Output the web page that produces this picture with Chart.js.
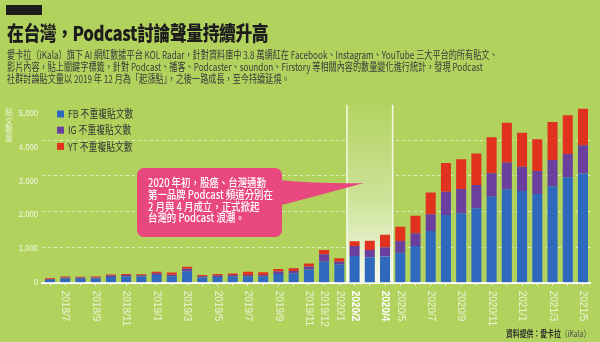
<!DOCTYPE html>
<html>
<head>
<meta charset="utf-8">
<script src="https://cdn.jsdelivr.net/npm/chart.js@4/dist/chart.umd.min.js"></script>
<style>
  body { margin: 0; }
  #wrap { position: relative; width: 600px; height: 342px; background: #b1d35e; overflow: hidden;
          font-family: "Noto Sans CJK TC", "Noto Sans", sans-serif; }
  #chart { position: absolute; left: 0; top: 0; }
  .txt { position: absolute; white-space: nowrap; transform-origin: 0 0; }
  #tag { position: absolute; left: 6px; top: 5px; width: 36px; height: 10px; background: #1c1c1c; }
  #title { left: 7px; top: 18px; font-size: 20px; font-weight: 900; color: #1d1d1d; transform: scaleX(0.84); letter-spacing: -0.5px; }
  #intro { left: 7px; top: 48px; font-size: 11px; line-height: 12.2px; color: #3a3a3a; transform: scaleX(0.74); }
  #note { left: 148px; top: 177px; font-size: 11.5px; line-height: 11.8px; color: #fff; font-weight: 500; transform: scaleX(0.82); }
  #source { left: 506px; top: 327px; font-size: 9px; color: #4a4a4a; transform: scaleX(0.76); }
  #source b { color: #2a2a2a; }
</style>
</head>
<body>
<div id="wrap">
  <canvas id="chart" width="600" height="342"></canvas>
  <div id="tag"></div>
  <div class="txt" id="title">在台灣，Podcast討論聲量持續升高</div>
  <div class="txt" id="intro">愛卡拉（iKala）旗下 AI 網紅數據平台 KOL Radar，針對資料庫中 3.8 萬網紅在 Facebook、Instagram、YouTube 三大平台的所有貼文、<br>影片內容，貼上關鍵字標籤，針對 Podcast、播客、Podcaster、soundon、Firstory 等相關內容的數量變化進行統計，發現 Podcast<br>社群討論貼文量以 2019 年 12 月為「起漲點」，之後一路成長，至今持續延燒。</div>
  <div class="txt" id="note">2020 年初，股癌、台灣通勤<br>第一品牌 Podcast 頻道分別在<br>2 月與 4 月成立，正式掀起<br>台灣的 Podcast 浪潮。</div>
  <div class="txt" id="source"><b>資料提供：愛卡拉</b>（iKala）</div>
</div>
<script>
  // monthly posts, 2018/6 - 2021/5
  var months = ['2018/6','2018/7','2018/8','2018/9','2018/10','2018/11','2018/12',
    '2019/1','2019/2','2019/3','2019/4','2019/5','2019/6','2019/7','2019/8','2019/9','2019/10','2019/11','2019/12',
    '2020/1','2020/2','2020/3','2020/4','2020/5','2020/6','2020/7','2020/8','2020/9','2020/10','2020/11','2020/12',
    '2021/1','2021/2','2021/3','2021/4','2021/5'];
  var tickLabels = ['2018/7','2018/9','2018/11','2019/1','2019/3','2019/5','2019/7','2019/9','2019/11','2019/12',
    '2020/1','2020/2','2020/4','2020/5','2020/7','2020/9','2020/11','2021/1','2021/3','2021/5'];
  var boldLabels = ['2020/2','2020/4'];
  var highlightRange = ['2020/2','2020/4'];

  var fbPosts = [85,125,120,125,170,185,180,230,190,340,150,170,180,185,180,260,275,390,620,
    540,790,750,770,885,1085,1525,2000,2050,2195,2540,2755,2705,2615,2850,3110,3225];
  var igPosts = [25,30,30,30,40,40,40,50,45,75,40,40,45,45,45,70,70,90,220,
    80,290,215,275,345,375,495,685,715,685,690,795,715,680,770,690,830];
  var ytPosts = [20,25,25,25,30,35,30,40,65,55,35,45,50,95,80,75,80,90,125,
    100,140,275,370,420,515,645,845,875,935,1060,1170,1005,935,1120,1145,1080];

  var yTicks = [0,1000,2000,3000,4000,5000];

  var decor = {
    id: 'decor',
    beforeDatasetsDraw: function (chart) {
      var ctx = chart.ctx, x = chart.scales.x, area = chart.chartArea;
      var half = (x.getPixelForValue(1) - x.getPixelForValue(0)) / 2;
      var x0 = x.getPixelForValue(months.indexOf(highlightRange[0])) - half;
      var x1 = x.getPixelForValue(months.indexOf(highlightRange[1])) + half;
      ctx.save();
      // highlighted months band
      var g = ctx.createLinearGradient(0, area.top, 0, area.bottom);
      g.addColorStop(0, 'rgba(255,255,255,0.02)');
      g.addColorStop(0.55, 'rgba(255,255,255,0.38)');
      g.addColorStop(1, 'rgba(255,255,255,0.9)');
      ctx.fillStyle = '#b1d35e';
      ctx.fillRect(x0, area.top, x1 - x0, area.bottom - area.top);
      ctx.fillStyle = g;
      ctx.fillRect(x0, area.top, x1 - x0, area.bottom - area.top);
      ctx.strokeStyle = 'rgba(255,255,255,0.85)';
      ctx.lineWidth = 1.5;
      ctx.beginPath();
      ctx.moveTo(x0, area.top); ctx.lineTo(x0, area.bottom);
      ctx.moveTo(x1, area.top); ctx.lineTo(x1, area.bottom);
      ctx.stroke();

      // callout bubble
      ctx.fillStyle = '#e9487f';
      ctx.beginPath();
      ctx.roundRect(137, 168, 145, 69, 7);
      ctx.fill();
      ctx.beginPath();
      ctx.moveTo(278, 180);
      ctx.quadraticCurveTo(325, 184, 364, 183);
      ctx.quadraticCurveTo(320, 195, 278, 206);
      ctx.closePath();
      ctx.fill();
      ctx.restore();
    },
    afterDraw: function (chart) {
      var ctx = chart.ctx, x = chart.scales.x, y = chart.scales.y, area = chart.chartArea;
      ctx.save();
      // y tick labels
      ctx.fillStyle = '#f4f8e6';
      ctx.font = '9px "Liberation Sans", sans-serif';
      ctx.textBaseline = 'middle';
      ctx.textAlign = 'right';
      yTicks.forEach(function (v) {
        var py = y.getPixelForValue(v);
        ctx.save();
        ctx.translate(38, py);
        ctx.scale(0.85, 1);
        ctx.fillText(v.toLocaleString('en-US'), 0, 0);
        ctx.restore();
      });
      // y axis title, stacked characters
      ctx.textAlign = 'center';
      ctx.fillStyle = '#e8f1cf';
      ctx.font = '8px "Noto Sans CJK TC", sans-serif';
      '貼文數量'.split('').forEach(function (ch, i) {
        ctx.fillText(ch, 9, 112 + i * 8.5);
      });
      // x tick labels, rotated to read top-down
      ctx.textAlign = 'left';
      tickLabels.forEach(function (lab) {
        var px = x.getPixelForValue(months.indexOf(lab));
        var bold = boldLabels.indexOf(lab) >= 0;
        ctx.font = (bold ? 'bold ' : '') + '10px "Liberation Sans", sans-serif';
        ctx.fillStyle = bold ? '#ffffff' : '#eaf2d6';
        ctx.save();
        ctx.translate(px, area.bottom + 8);
        ctx.rotate(Math.PI / 2);
        ctx.fillText(lab, 0, 0);
        ctx.restore();
      });
      // legend
      ctx.font = '11px "Noto Sans CJK TC", sans-serif';
      chart.data.datasets.forEach(function (ds, i) {
        var ly = 114 + i * 16.2;
        ctx.fillStyle = ds.backgroundColor;
        ctx.fillRect(57, ly - 3.5, 7, 7);
        ctx.fillStyle = '#333333';
        ctx.save();
        ctx.translate(68, ly);
        ctx.scale(0.8, 1);
        ctx.fillText(ds.label, 0, 0);
        ctx.restore();
      });
      ctx.restore();
    }
  };

  new Chart(document.getElementById('chart'), {
    type: 'bar',
    data: {
      labels: months,
      datasets: [
        { label: 'FB 不重複貼文數', data: fbPosts, backgroundColor: '#2f69bd' },
        { label: 'IG 不重複貼文數', data: igPosts, backgroundColor: '#6a3f9d' },
        { label: 'YT 不重複貼文數', data: ytPosts, backgroundColor: '#e1321f' }
      ]
    },
    options: {
      responsive: false,
      animation: false,
      devicePixelRatio: 1,
      layout: { padding: { top: 104.8, right: 9.4, left: 0, bottom: 0 } },
      plugins: { legend: { display: false }, tooltip: { enabled: false } },
      datasets: { bar: { categoryPercentage: 0.66, barPercentage: 1 } },
      scales: {
        x: {
          stacked: true,
          offset: true,
          afterFit: function (s) { s.height = 59.3; },
          ticks: { display: false },
          grid: { offset: false, drawOnChartArea: false, drawTicks: true, tickLength: 3, color: 'rgba(255,255,255,0.8)' },
          border: { display: true, color: '#ffffff', width: 2 }
        },
        y: {
          stacked: true,
          min: 0,
          max: 5250,
          afterFit: function (s) { s.width = 42.4; },
          ticks: { display: false, stepSize: 1000 },
          grid: {
            drawTicks: false,
            color: function (c) {
              return (c.tick.value > 0 && c.tick.value <= 5000) ? 'rgba(255,255,255,0.6)' : 'transparent';
            }
          },
          border: { display: false, dash: [3, 3] }
        }
      }
    },
    plugins: [decor]
  });
</script>
</body>
</html>
